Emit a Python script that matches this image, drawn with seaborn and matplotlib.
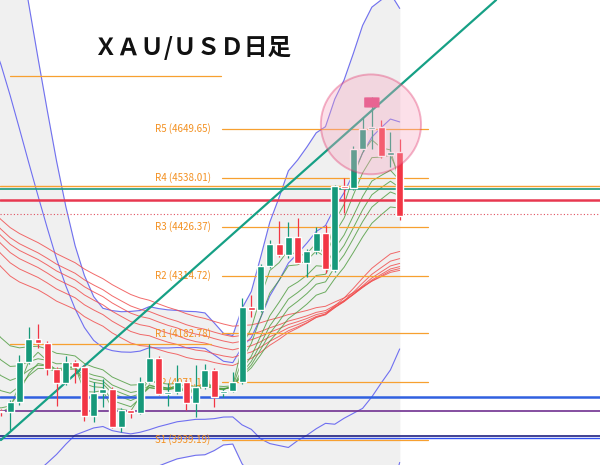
import numpy as np
import pandas as pd
import matplotlib
matplotlib.use("Agg")
import matplotlib.pyplot as plt
import seaborn as sns
from matplotlib.patches import FancyBboxPatch, Ellipse

sns.set_theme(style="white")
plt.rcParams['font.family'] = ['Noto Sans CJK JP', 'DejaVu Sans']

# earlier daily closes (left of the visible window, only feed the indicators)
pre_close = [4560, 4600, 4640, 4690, 4720, 4760, 4790, 4810, 4830, 4850,
             4870, 4860, 4880, 4900, 4890, 4870, 4880, 4860, 4840, 4850,
             4820, 4780, 4720, 4650, 4580, 4500, 4420, 4340, 4260, 4190,
             4130, 4080, 4040, 4010, 3990, 3980, 3995, 4005]

# visible candles
opens  = [4006, 4003, 4026, 4117, 4170, 4161, 4101, 4070, 4117, 4106, 3994, 4047,
          4056, 3969, 4008, 4001, 4072, 4127, 4044, 4049, 4072, 4024, 4060, 4099,
          4047, 4051, 4072, 4243, 4236, 4337, 4387, 4362, 4403, 4344, 4371, 4412,
          4328, 4519, 4515, 4604, 4650, 4654, 4590, 4597]
highs  = [4010, 4030, 4133, 4197, 4204, 4165, 4105, 4131, 4121, 4110, 4072, 4078,
          4060, 4012, 4010, 4083, 4158, 4130, 4070, 4111, 4076, 4111, 4113, 4103,
          4055, 4094, 4264, 4270, 4340, 4396, 4440, 4437, 4446, 4375, 4426, 4430,
          4522, 4538, 4610, 4677, 4723, 4670, 4643, 4627]
lows   = [3995, 3962, 4020, 4112, 4150, 4088, 4017, 4065, 4070, 3983, 3980, 4015,
          3967, 3958, 3990, 3998, 4070, 4043, 4017, 4045, 4008, 3992, 4055, 4015,
          4037, 4048, 4068, 4220, 4232, 4333, 4358, 4355, 4340, 4312, 4365, 4321,
          4322, 4458, 4510, 4600, 4604, 4584, 4563, 4442]
closes = [4003, 4026, 4117, 4170, 4161, 4101, 4070, 4117, 4106, 3994, 4047, 4056,
          3969, 4008, 4001, 4072, 4127, 4044, 4049, 4072, 4024, 4060, 4099, 4037,
          4051, 4072, 4243, 4236, 4337, 4387, 4362, 4403, 4344, 4371, 4412, 4330,
          4519, 4515, 4604, 4650, 4654, 4588, 4597, 4451]

pivot_names = ["R5", "R4", "R3", "R2", "R1", "P", "S1"]
pivot_vals = [4649.65, 4538.01, 4426.37, 4314.72, 4182.78, 4071.14, 3939.19]
title = "ＸＡＵ/ＵＳＤ日足"

n_pre = len(pre_close)
allc = pd.Series(pre_close + closes, index=np.arange(-n_pre, len(closes)))
ix = np.arange(len(closes))

fig = plt.figure(figsize=(6, 4.65), dpi=100)
ax = fig.add_axes([0, 0, 1, 1])
ax.set_xlim(-0.1, 64.6)
ax.set_ylim(3882, 4944)
ax.axis("off")

# bollinger bands
mid = allc.rolling(20, min_periods=5).mean()
sd = allc.rolling(20, min_periods=5).std()
ax.fill_between(allc.index, mid - 3 * sd, mid + 3 * sd, color="#f0f0f0", zorder=0)
ax.axvspan(len(closes) - 0.5, 70, color="white", zorder=0.5)
for k in (1.5, 3):
    ax.plot(allc.index, mid + k * sd, color="#6f6ff0", lw=0.8, zorder=1)
    ax.plot(allc.index, mid - k * sd, color="#6f6ff0", lw=0.8, zorder=1)

# guppy style ema ribbons
for span in (30, 35, 40, 45, 50, 60):
    ax.plot(allc.index, allc.ewm(span=span).mean(), color="#f05050", lw=0.7, alpha=0.85, zorder=1)
for span in (3, 5, 8, 10, 12, 15):
    ax.plot(allc.index, allc.ewm(span=span).mean(), color="#4a9a3a", lw=0.7, alpha=0.8, zorder=1)

# pivot levels
for name, v in zip(pivot_names, pivot_vals):
    ax.plot([23.8, 46], [v, v], color="#f7a030", lw=0.9, zorder=1)
    ax.text(22.6, v, f"{name} ({v:.2f})", color="#f39020", fontsize=7,
            va="center", ha="right", zorder=2)
ax.plot([1, 23.7], [4770, 4770], color="#f7a030", lw=0.9)
ax.plot([1, 22.7], [4158, 4158], color="#f7a030", lw=0.9)

# horizontal lines across
ax.axhline(4519, color="#f7a030", lw=1.0, zorder=1)
ax.axhline(4512, color="#1a9a80", lw=1.2, zorder=1)
ax.axhline(4487, color="#e83850", lw=1.8, zorder=1)
ax.axhline(4455, color="#e05060", lw=0.8, ls=(0, (1, 2)), zorder=1)
ax.axhline(4037, color="#3060e0", lw=1.8, zorder=1)
ax.axhline(4005, color="#703090", lw=1.2, zorder=1)
ax.axhline(3948, color="#202080", lw=1.2, zorder=1)
ax.axhline(3943, color="#3050f0", lw=1.0, zorder=1)

# trend line
ax.plot([0, 53.4], [3939, 4944], color="#16a085", lw=1.6, zorder=2)

# candles
o, c, h, l = map(np.array, (opens, closes, highs, lows))
col = np.where(c >= o, "#16997a", "#f23645")
ax.vlines(ix, l, h, colors=col, lw=0.9, zorder=3)
ax.bar(ix, np.maximum(np.abs(c - o), 3), bottom=np.minimum(o, c), width=0.75,
       color=col, zorder=4)

# highlight on the high
ax.add_patch(FancyBboxPatch((39.35, 4700), 1.3, 20, boxstyle="round,pad=0.1,rounding_size=0.3",
                            color="#e0407a", zorder=5))
ax.add_patch(Ellipse((39.9, 4660), 10.8, 228, facecolor="#f8a8c0", alpha=0.35,
                     edgecolor="#e02a64", lw=1.4, zorder=5))

ax.text(92 / 600 * 64.7, 4834, title, fontsize=17, fontweight="bold",
        ha="left", va="center", color="#111111")

fig.savefig("out.png", dpi=100)
